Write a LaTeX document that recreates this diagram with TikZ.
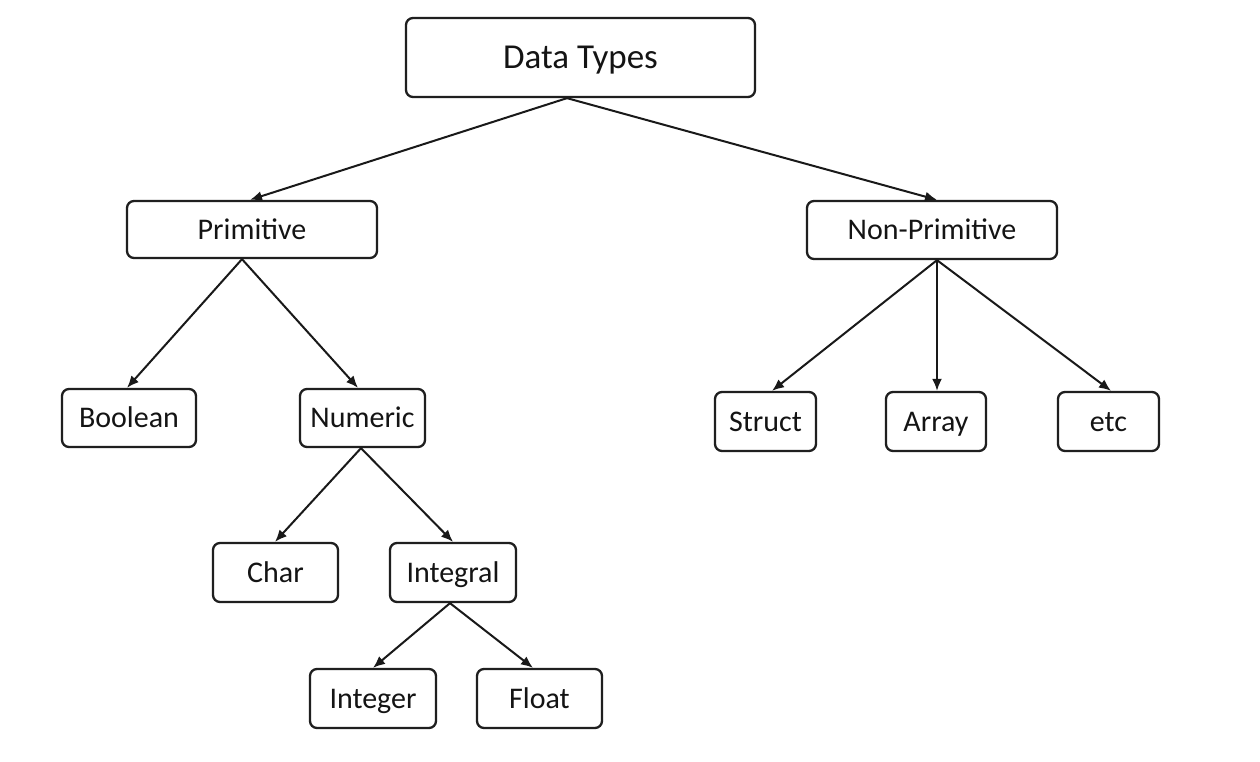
\documentclass[tikz,border=0pt]{standalone}
\usepackage{fontspec}
\setmainfont{Carlito}
\usetikzlibrary{arrows.meta}
\begin{document}
\begin{tikzpicture}[x=1pt,y=-1pt,
  box/.style={draw=black!88,line width=2.3pt,rounded corners=7pt,inner sep=0pt,
    text height=19pt,text depth=0pt,
    font=\fontsize{30}{34}\selectfont,text=black!92},
  conn/.style={draw=black!90,line width=2pt,-{Latex[length=12pt,width=10pt]}}]
\useasboundingbox (0,0) rectangle (1260,762);
\fill[white] (0,0) rectangle (1260,762);
\node[box,minimum width=349pt,minimum height=79pt,text height=22pt,font=\fontsize{35}{40}\selectfont] (dt) at (580.5,57.5) {Data Types};
\node[box,minimum width=250pt,minimum height=57pt] (prim) at (252,229.5) {Primitive};
\node[box,minimum width=250pt,minimum height=58pt] (nonp) at (932,230) {Non-Primitive};
\node[box,minimum width=134pt,minimum height=58pt] (bool) at (129,418) {Boolean};
\node[box,minimum width=125pt,minimum height=58pt] (num) at (362.5,418) {Numeric};
\node[box,minimum width=101pt,minimum height=59pt] (struct) at (765.5,421.5) {Struct};
\node[box,minimum width=100pt,minimum height=59pt] (array) at (936,421.5) {Array};
\node[box,minimum width=101pt,minimum height=59pt] (etc) at (1108.5,421.5) {etc};
\node[box,minimum width=125pt,minimum height=59pt] (char) at (275.5,572.5) {Char};
\node[box,minimum width=126pt,minimum height=59pt] (integral) at (453,572.5) {Integral};
\node[box,minimum width=126pt,minimum height=59pt] (integer) at (373,698.5) {Integer};
\node[box,minimum width=125pt,minimum height=59pt] (float) at (539.5,698.5) {Float};
\draw[conn] ([xshift=-13.5pt]dt.south) -- ([xshift=-2pt]prim.north);
\draw[conn] ([xshift=-13.5pt]dt.south) -- ([xshift=5pt]nonp.north);
\draw[conn] ([xshift=-10pt]prim.south) -- ([xshift=-2pt]bool.north);
\draw[conn] ([xshift=-10pt]prim.south) -- ([xshift=-4.5pt]num.north);
\draw[conn] ([xshift=5pt]nonp.south) -- ([xshift=6.5pt]struct.north);
\draw[conn] ([xshift=5pt]nonp.south) -- ([xshift=1pt]array.north);
\draw[conn] ([xshift=5pt]nonp.south) -- ([xshift=2.5pt]etc.north);
\draw[conn] ([xshift=-1.5pt]num.south) -- ([xshift=-0.5pt]char.north);
\draw[conn] ([xshift=-1.5pt]num.south) -- (integral.north);
\draw[conn] ([xshift=-3pt]integral.south) -- (integer.north);
\draw[conn] ([xshift=-3pt]integral.south) -- ([xshift=-6.5pt]float.north);
\end{tikzpicture}
\end{document}
